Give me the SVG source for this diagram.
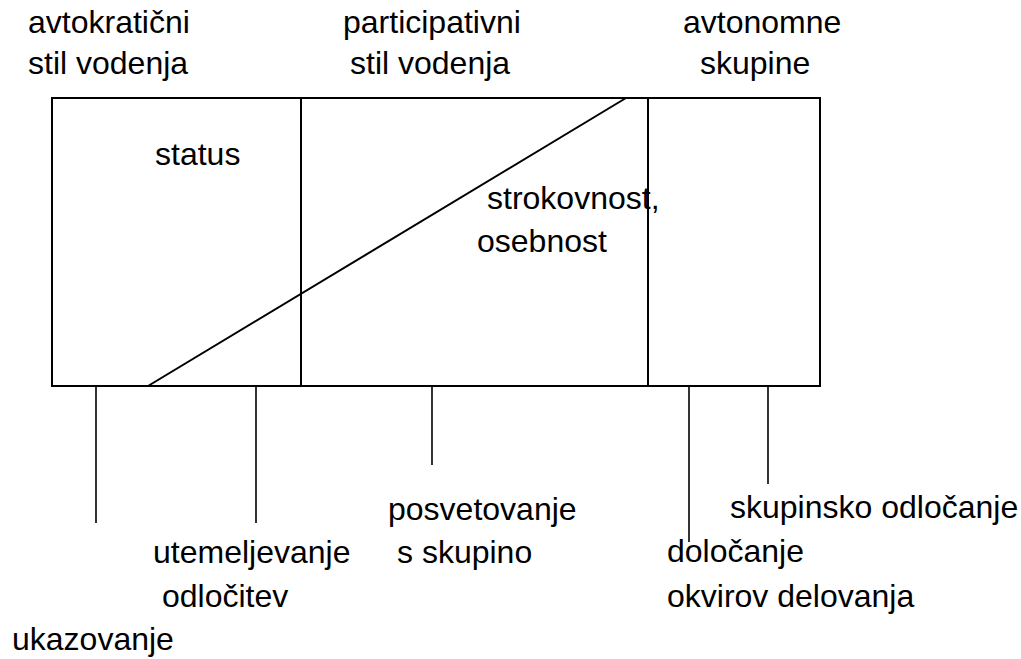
<svg xmlns="http://www.w3.org/2000/svg" width="1021" height="659" viewBox="0 0 1021 659">
  <style>
    text { font-family: "Liberation Sans", Arial, sans-serif; font-size: 32px; fill: #000; }
    .frame { fill: none; stroke: #000; stroke-width: 2; }
    .rule { stroke: #000; stroke-width: 2; fill: none; }
    .tick { stroke: #000; stroke-width: 1.6; fill: none; }
  </style>
  <rect width="1021" height="659" fill="#fff"/>

  <!-- column headings -->
  <g id="heading-autocratic">
    <text x="28" y="33">avtokratični</text>
    <text x="28" y="74">stil vodenja</text>
  </g>
  <g id="heading-participative">
    <text x="343" y="33">participativni</text>
    <text x="350" y="74">stil vodenja</text>
  </g>
  <g id="heading-autonomous">
    <text x="683" y="33">avtonomne</text>
    <text x="700" y="74">skupine</text>
  </g>

  <!-- main frame with its three sections -->
  <g id="frame">
    <rect class="frame" x="52" y="98" width="768" height="288"/>
    <line class="rule" x1="301" y1="98" x2="301" y2="386"/>
    <line class="rule" x1="648" y1="98" x2="648" y2="386"/>
    <line class="rule" x1="148" y1="386" x2="626" y2="98"/>
  </g>

  <g id="label-status">
    <text x="155" y="165">status</text>
  </g>
  <g id="label-expertise">
    <text x="487" y="209">strokovnost,</text>
    <text x="477" y="252">osebnost</text>
  </g>

  <!-- ticks below the frame -->
  <g id="connectors">
    <line class="tick" x1="96" y1="387" x2="96" y2="523"/>
    <line class="tick" x1="256" y1="387" x2="256" y2="523"/>
    <line class="tick" x1="432" y1="387" x2="432" y2="465"/>
    <line class="tick" x1="689" y1="387" x2="689" y2="542"/>
    <line class="tick" x1="768" y1="387" x2="768" y2="484"/>
  </g>

  <g id="label-directing">
    <text x="12" y="650">ukazovanje</text>
  </g>
  <g id="label-justifying">
    <text x="153" y="563">utemeljevanje</text>
    <text x="162" y="607">odločitev</text>
  </g>
  <g id="label-consulting">
    <text x="388" y="520">posvetovanje</text>
    <text x="397" y="563">s skupino</text>
  </g>
  <g id="label-framing">
    <text x="667" y="562">določanje</text>
    <text x="667" y="607">okvirov delovanja</text>
  </g>
  <g id="label-group-decision">
    <text x="730" y="518">skupinsko odločanje</text>
  </g>
</svg>
